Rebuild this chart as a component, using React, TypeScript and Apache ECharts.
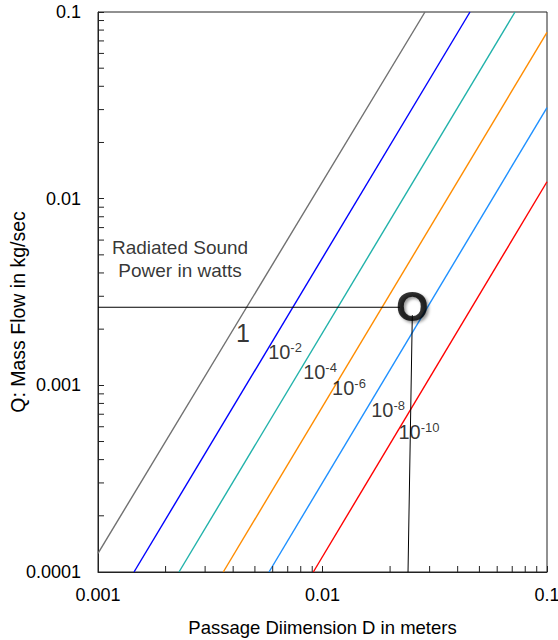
import React, { useEffect, useRef } from 'react';
import * as echarts from 'echarts';

// Axis ticks
const xTickValues = [0.001, 0.01, 0.1];
const xTickLabels = ['0.001', '0.01', '0.1'];
const yTickValues = [0.0001, 0.001, 0.01, 0.1];
const yTickLabels = ['0.0001', '0.001', '0.01', '0.1'];
const xMinorTicks = [0.002, 0.003, 0.004, 0.005, 0.006, 0.007, 0.008, 0.009, 0.02, 0.03, 0.04, 0.05, 0.06, 0.07, 0.08, 0.09];
const yMinorTicks = [0.0002, 0.0003, 0.0004, 0.0005, 0.0006, 0.0007, 0.0008, 0.0009, 0.002, 0.003, 0.004, 0.005, 0.006, 0.007, 0.008, 0.009, 0.02, 0.03, 0.04, 0.05, 0.06, 0.07, 0.08, 0.09];

// Sound power lines (D in m, Q in kg/s), endpoints
const powerNames = ['1 W', '1e-2 W', '1e-4 W', '1e-6 W', '1e-8 W', '1e-10 W'];
const line1 = [[0.001, 1.259e-4], [0.02861, 0.1]];
const line1e2 = [[0.001447, 0.0001], [0.04539, 0.1]];
const line1e4 = [[0.002295, 0.0001], [0.07204, 0.1]];
const line1e6 = [[0.003614, 0.0001], [0.1, 0.07773]];
const line1e8 = [[0.005777, 0.0001], [0.1, 0.03076]];
const line1e10 = [[0.009101, 0.0001], [0.1, 0.01232]];
const powerLines = [line1, line1e2, line1e4, line1e6, line1e8, line1e10];
const lineColors = ['#707070', '#0000ff', '#20b2aa', '#ff8c00', '#1e90ff', '#ff0000'];

// Operating point guide lines
const hGuide = [[0.001, 0.00262], [0.0221, 0.00262]];
const vGuide = [[0.02404, 0.0001], [0.02512, 0.002379]];

// Annotations
const annD = [0.004426, 0.00681, 0.00975, 0.01312, 0.0196, 0.0269, 0.0251, 0.00232];
const annQ = [0.001905, 0.001507, 0.001178, 0.000967, 0.000737, 0.000562, 0.00265, 0.00475];
const annText = [
  '{one|1}',
  '{b|10}{s|-2}',
  '{b|10}{s|-4}',
  '{b|10}{s|-6}',
  '{b|10}{s|-8}',
  '{b|10}{s|-10}',
  '{o|O}',
  '{t|Radiated Sound}\n{t|Power in watts}',
];

const FONT = 'Liberation Sans, Arial, Helvetica, sans-serif';

function fmt(values: number[], labels: string[]) {
  return (v: number) => {
    const i = values.findIndex((t) => Math.abs(Math.log10(t) - Math.log10(v)) < 1e-6);
    return i >= 0 ? labels[i] : '';
  };
}

export default function App() {
  const ref = useRef<HTMLDivElement>(null);
  useEffect(() => {
    if (!ref.current) return;
    const chart = echarts.init(ref.current, undefined, { renderer: 'svg' });
    const axisColor = '#222';
    const series: any[] = powerLines.map((d, i) => ({
      name: powerNames[i],
      type: 'line',
      data: d,
      symbol: 'none',
      lineStyle: { color: lineColors[i], width: 1.4 },
      itemStyle: { color: lineColors[i] },
      silent: true,
    }));
    series.push(
      { type: 'line', data: hGuide, symbol: 'none', lineStyle: { color: '#000', width: 1 }, silent: true },
      { type: 'line', data: vGuide, symbol: 'none', lineStyle: { color: '#000', width: 1 }, silent: true },
      {
        type: 'custom',
        data: xMinorTicks.map((v) => [v, 0.0001]),
        renderItem: (_p: any, api: any) => {
          const p = api.coord([api.value(0), api.value(1)]);
          return { type: 'line', shape: { x1: p[0], y1: p[1], x2: p[0], y2: p[1] - 6 }, style: { stroke: axisColor, lineWidth: 1 } };
        },
        silent: true,
        z: 5,
      },
      {
        type: 'custom',
        data: yMinorTicks.map((v) => [0.001, v]),
        renderItem: (_p: any, api: any) => {
          const p = api.coord([api.value(0), api.value(1)]);
          return { type: 'line', shape: { x1: p[0], y1: p[1], x2: p[0] + 6, y2: p[1] }, style: { stroke: axisColor, lineWidth: 1 } };
        },
        silent: true,
        z: 5,
      },
      {
        type: 'scatter',
        symbolSize: 0,
        silent: true,
        z: 10,
        data: annD.map((d, i) => ({
          value: [d, annQ[i]],
          label: { formatter: annText[i] },
        })),
        label: {
          show: true,
          position: 'inside',
          color: '#000',
          fontFamily: FONT,
          rich: {
            one: { fontSize: 25, fontFamily: FONT, color: '#000' },
            b: { fontSize: 20, fontFamily: FONT, color: '#000' },
            s: { fontSize: 13, fontFamily: FONT, color: '#000', padding: [0, 0, 9, 0] },
            o: {
              fontSize: 42,
              fontWeight: 'bold',
              fontFamily: FONT,
              color: '#000',
              textShadowColor: 'rgba(0,0,0,0.5)',
              textShadowBlur: 3,
              textShadowOffsetX: 2,
              textShadowOffsetY: 2,
            },
            t: { fontSize: 19, fontFamily: FONT, color: '#000', lineHeight: 23, align: 'center' },
          },
        },
      }
    );

    chart.setOption({
      animation: false,
      grid: { left: 98, right: 11, top: 12, bottom: 68, outerBoundsMode: 'none', containLabel: false, show: true, borderColor: axisColor, borderWidth: 1, backgroundColor: 'transparent' },
      xAxis: {
        type: 'log',
        logBase: 10,
        min: 0.001,
        max: 0.1,
        name: 'Passage Diimension D in meters',
        nameLocation: 'middle',
        nameGap: 46,
        nameMoveOverlap: false,
        nameTextStyle: { fontSize: 18.5, fontFamily: FONT, color: '#000' },
        axisLine: { lineStyle: { color: axisColor } },
        axisTick: { inside: true, length: 6, lineStyle: { color: axisColor } },
        axisLabel: { formatter: fmt(xTickValues, xTickLabels), fontSize: 18, fontFamily: FONT, color: '#000', margin: 14 },
        splitLine: { show: false },
      },
      yAxis: {
        type: 'log',
        logBase: 10,
        min: 0.0001,
        max: 0.1,
        name: 'Q: Mass Flow in kg/sec',
        nameLocation: 'middle',
        nameRotate: 90,
        nameGap: 70,
        nameMoveOverlap: false,
        nameTextStyle: { fontSize: 19.5, fontFamily: FONT, color: '#000', padding: [0, 40, 0, 0] },
        axisLine: { lineStyle: { color: axisColor } },
        axisTick: { inside: true, length: 6, lineStyle: { color: axisColor } },
        axisLabel: { formatter: fmt(yTickValues, yTickLabels), fontSize: 18, fontFamily: FONT, color: '#000', margin: 17, padding: [4, 0, 0, 0] },
        splitLine: { show: false },
      },
      series,
    });
    return () => chart.dispose();
  }, []);
  return <div ref={ref} style={{ width: 558, height: 640, position: 'absolute', left: 0, top: 0 }} />;
}
